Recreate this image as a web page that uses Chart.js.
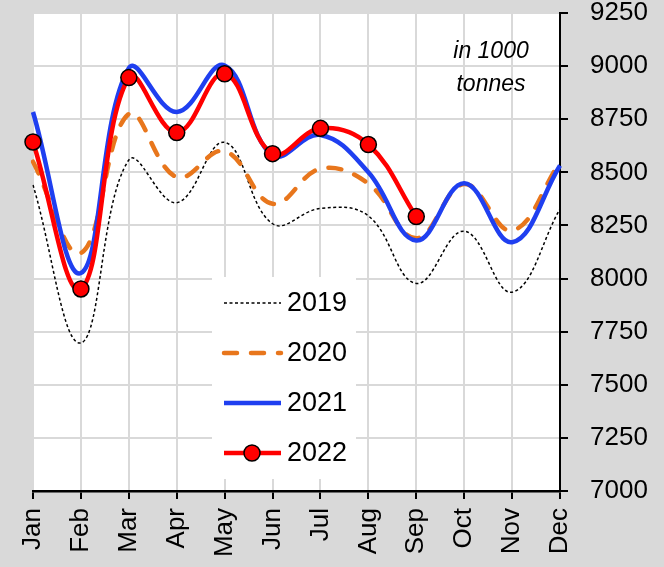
<!DOCTYPE html>
<html>
<head>
<meta charset="utf-8">
<script src="https://cdn.jsdelivr.net/npm/chart.js@4.4.1/dist/chart.umd.min.js"></script>
<style>
  html, body { margin: 0; padding: 0; background: #d9d9d9; }
  #wrap { width: 664px; height: 567px; }
</style>
</head>
<body>
<div id="wrap"><canvas id="chart" width="664" height="567"></canvas></div>
<script>
const months = ['Jan', 'Feb', 'Mar', 'Apr', 'May', 'Jun', 'Jul', 'Aug', 'Sep', 'Oct', 'Nov', 'Dec'];
const years = ['2019', '2020', '2021', '2022'];
const v2019 = [8440, 7697, 8558, 8357, 8641, 8258, 8330, 8295, 7977, 8223, 7936, 8328];
const v2020 = [8550, 8120, 8775, 8477, 8600, 8352, 8517, 8447, 8190, 8445, 8226, 8548];
const v2021 = [8784, 8026, 8990, 8784, 9003, 8580, 8676, 8500, 8179, 8449, 8171, 8532];
const v2022 = [8643, 7951, 8946, 8687, 8964, 8588, 8707, 8631, 8292, null, null, null];
const unitText = ['in 1000', 'tonnes'];

const FONT = "'Liberation Sans', Arial, sans-serif";

// white plot area
const plotBg = {
    id: 'plotBg',
    beforeDraw(chart) {
        const a = chart.chartArea;
        const c = chart.ctx;
        c.save();
        c.fillStyle = '#ffffff';
        c.fillRect(a.left, a.top, a.right - a.left, a.bottom - a.top);
        c.restore();
    }
};

// legend box inside the plot + unit note
const boxLegend = {
    id: 'boxLegend',
    afterDraw(chart) {
        const c = chart.ctx;
        c.save();
        c.fillStyle = '#ffffff';
        c.fillRect(212, 277, 144, 202);
        chart.data.datasets.forEach(function (ds, i) {
            const y = 303 + i * 50;
            c.save();
            c.strokeStyle = ds.borderColor;
            c.lineWidth = ds.borderWidth;
            c.lineCap = ds.borderCapStyle || 'butt';
            c.setLineDash(ds.borderDash || []);
            c.beginPath();
            c.moveTo(224, y);
            c.lineTo(281, y);
            c.stroke();
            c.restore();
            if (ds.pointRadius > 0) {
                c.beginPath();
                c.arc(252, y, ds.pointRadius, 0, Math.PI * 2);
                c.fillStyle = ds.pointBackgroundColor;
                c.fill();
                c.lineWidth = ds.pointBorderWidth;
                c.strokeStyle = ds.pointBorderColor;
                c.stroke();
            }
            c.fillStyle = '#000';
            c.font = '27px ' + FONT;
            c.textAlign = 'left';
            c.textBaseline = 'middle';
            c.fillText(ds.label, 287, y + 1);
        });
        c.font = 'italic 23px ' + FONT;
        c.fillStyle = '#000';
        c.textAlign = 'center';
        c.textBaseline = 'middle';
        c.fillText(unitText[0], 491, 52);
        c.fillText(unitText[1], 491, 85);
        c.restore();
    }
};

new Chart(document.getElementById('chart'), {
    type: 'line',
    data: {
        labels: months,
        datasets: [
            {
                label: years[0],
                data: v2019,
                borderColor: '#000000',
                borderWidth: 1.5,
                borderDash: [3, 2.5],
                pointRadius: 0,
                tension: 0.4,
                order: 4
            },
            {
                label: years[1],
                data: v2020,
                borderColor: '#e8761c',
                borderWidth: 4.5,
                borderDash: [13, 14],
                borderCapStyle: 'round',
                pointRadius: 0,
                tension: 0.4,
                order: 3
            },
            {
                label: years[2],
                data: v2021,
                borderColor: '#1f3ff0',
                borderWidth: 4.5,
                pointRadius: 0,
                tension: 0.4,
                order: 2
            },
            {
                label: years[3],
                data: v2022,
                borderColor: '#ff0000',
                borderWidth: 4.5,
                pointRadius: 8,
                pointBackgroundColor: '#ff0000',
                pointBorderColor: '#000000',
                pointBorderWidth: 1.5,
                tension: 0.4,
                order: 1
            }
        ]
    },
    options: {
        responsive: false,
        animation: false,
        devicePixelRatio: 1,
        layout: {
            padding: { left: 33, top: 13, right: 0, bottom: 0 }
        },
        plugins: {
            legend: { display: false },
            tooltip: { enabled: false }
        },
        scales: {
            x: {
                offset: false,
                border: { color: '#000', width: 2.5 },
                grid: {
                    color: '#d9d9d9',
                    lineWidth: 2,
                    tickColor: '#000',
                    tickLength: 8,
                    tickWidth: 2
                },
                ticks: {
                    autoSkip: false,
                    minRotation: 90,
                    maxRotation: 90,
                    padding: 9,
                    color: '#000',
                    font: { size: 26, family: FONT }
                },
                afterFit(scale) {
                    scale.height = 76;
                    scale.paddingLeft = 0;
                    scale.paddingRight = 0;
                }
            },
            y: {
                position: 'right',
                min: 7000,
                max: 9250,
                border: { color: '#000', width: 2 },
                grid: {
                    color: '#d9d9d9',
                    lineWidth: 2,
                    tickColor: '#000',
                    tickLength: 8,
                    tickWidth: 2
                },
                ticks: {
                    stepSize: 250,
                    padding: 22,
                    color: '#000',
                    font: { size: 26, family: FONT },
                    callback: function (value) { return String(value); }
                },
                afterFit(scale) {
                    scale.width = 104;
                    scale.paddingTop = 0;
                    scale.paddingBottom = 0;
                }
            }
        }
    },
    plugins: [plotBg, boxLegend]
});
</script>
</body>
</html>
